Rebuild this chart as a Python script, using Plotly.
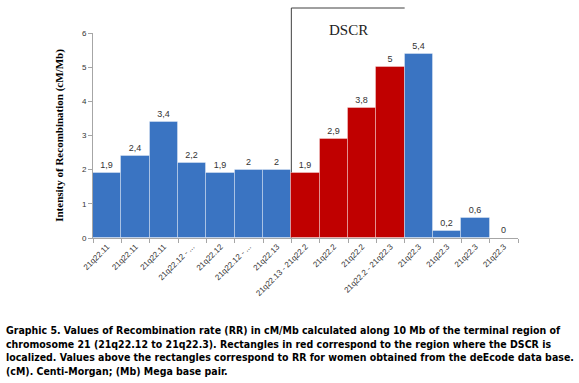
import plotly.graph_objects as go

categories = ["21q22.11", "21q22.11", "21q22.11", "21q22.12 - ...", "21q22.12",
              "21q22.12 - ...", "21q22.13", "21q22.13 - 21q22.2", "21q22.2", "21q22.2",
              "21q22.2 - 21q22.3", "21q22.3", "21q22.3", "21q22.3", "21q22.3"]
values = [1.9, 2.4, 3.4, 2.2, 1.9, 2, 2, 1.9, 2.9, 3.8, 5, 5.4, 0.2, 0.6, 0]
labels = ["1,9", "2,4", "3,4", "2,2", "1,9", "2", "2", "1,9", "2,9", "3,8", "5", "5,4", "0,2", "0,6", "0"]
in_dscr = [False] * 7 + [True] * 4 + [False] * 4
y_ticks = [0, 1, 2, 3, 4, 5, 6]

caption = [
    "Graphic 5. Values of Recombination rate (RR) in cM/Mb calculated along 10 Mb of the terminal region of",
    "chromosome 21 (21q22.12 to 21q22.3). Rectangles in red correspond to the region where the DSCR is",
    "localized. Values above the rectangles correspond to RR for women obtained from the deEcode data base.",
    "(cM). Centi-Morgan; (Mb) Mega base pair.",
]

W, H = 579, 383
L, R, T, B = 93, 61, 33, 145
pw, ph = W - L - R, H - T - B


def xp(px):
    return (px - L) / pw


def yp(py):
    return (H - B - py) / ph


x = list(range(len(values)))
colors = ["#C00000" if d else "#3A74C2" for d in in_dscr]

fig = go.Figure()
fig.add_trace(go.Bar(
    x=x, y=values, width=1.0,
    marker=dict(color=colors, line=dict(color="rgba(255,255,255,0.35)", width=1)),
    text=labels, textposition="outside", cliponaxis=False,
    textfont=dict(family="Liberation Sans, Arial", size=9, color="#333333"),
    showlegend=False, hoverinfo="skip",
))

# DSCR bracket (left and top lines)
fig.add_shape(type="line", xref="x", yref="paper", x0=6.5, x1=6.5, y0=0, y1=yp(8),
              line=dict(color="#404040", width=1), layer="below")
fig.add_shape(type="line", xref="x", yref="paper", x0=6.5, x1=10.5, y0=yp(8), y1=yp(8),
              line=dict(color="#404040", width=1), layer="below")
fig.add_annotation(text="DSCR", xref="x", yref="paper", x=8.5, y=yp(20), showarrow=False,
                   font=dict(family="Liberation Serif, Times New Roman", size=15, color="#222222"))

# Caption
cap_y = [330, 344, 357, 371]
for line, py in zip(caption, cap_y):
    fig.add_annotation(text=line, xref="paper", yref="paper", x=xp(4), y=yp(py),
                       xanchor="left", yanchor="middle", showarrow=False,
                       font=dict(family="DejaVu Sans Condensed, Liberation Sans", size=10.5,
                                 color="#000000", weight="bold"))

fig.update_layout(
    width=W, height=H,
    margin=dict(l=L, r=R, t=T, b=B),
    paper_bgcolor="white", plot_bgcolor="white",
    bargap=0,
    xaxis=dict(
        range=[-0.5, len(values) - 0.5],
        tickvals=x, ticktext=categories, tickangle=-45,
        ticks="", showline=True, linecolor="#A6A6A6", linewidth=1,
        showgrid=False, zeroline=False,
        tickfont=dict(family="Liberation Sans, Arial", size=8, color="#333333"),
        minor=dict(ticks="outside", tick0=-0.5, dtick=1, ticklen=4, tickcolor="#A6A6A6"),
    ),
    yaxis=dict(
        range=[0, 6], tickvals=y_ticks, ticks="outside", ticklen=4, tickcolor="#A6A6A6",
        showline=True, linecolor="#A6A6A6", linewidth=1, showgrid=False, zeroline=False,
        tickfont=dict(family="Liberation Sans, Arial", size=8, color="#333333"),
        title=dict(text="Intensity of Recombination (cM/Mb)", standoff=16,
                   font=dict(family="Liberation Serif, Times New Roman", size=11,
                             color="#000000", weight="bold")),
    ),
)

fig.write_html("out.html", config={"displayModeBar": False},
               post_script="document.body.style.margin='0';document.body.style.padding='0';")
